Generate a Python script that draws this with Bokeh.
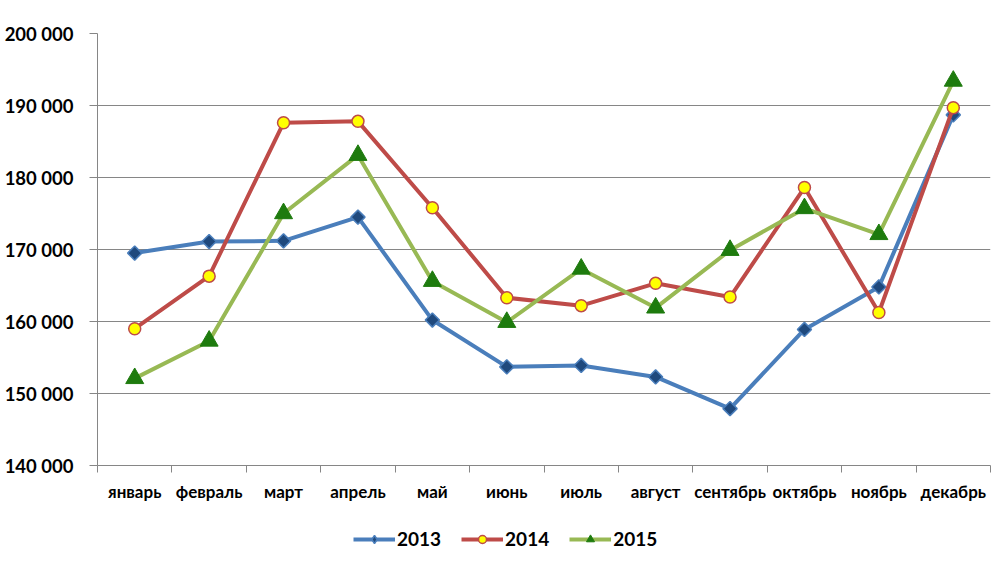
import math
from bokeh.plotting import figure
from bokeh.layouts import column
from bokeh.models import (Range1d, LinearAxis, FixedTicker, Legend, LegendItem, ColumnDataSource)
from bokeh.embed import file_html
from bokeh.resources import INLINE

months = ["январь", "февраль", "март", "апрель", "май", "июнь", "июль",
          "август", "сентябрь", "октябрь", "ноябрь", "декабрь"]
v2013 = [169500, 171100, 171200, 174500, 160200, 153700, 153900, 152300, 147900, 158900, 164800, 188700]
v2014 = [159000, 166300, 187600, 187800, 175800, 163300, 162200, 165300, 163400, 178600, 161250, 189700]
v2015 = [152100, 157300, 175000, 183100, 165600, 159900, 167300, 161900, 169900, 175700, 172100, 193400]
series_names = ["2013", "2014", "2015"]
y_ticks = [140000, 150000, 160000, 170000, 180000, 190000, 200000]

FONT = "Lato"
GRID = "#868686"
BLUE, RED, GREEN = "#4A7EBB", "#BE4B48", "#98B954"
DIAMOND_FILL, CIRCLE_FILL, TRI_FILL = "#1F497D", "#FFFF00", "#1E7B0E"

# category centres and boundaries on a numeric axis
centres = [i + 0.5 for i in range(len(months))]
bounds = list(range(len(months) + 1))

p = figure(width=1000, height=504, output_backend="svg", toolbar_location=None,
           x_range=Range1d(0, len(months)), y_range=Range1d(y_ticks[0], y_ticks[-1]),
           x_axis_location=None, y_axis_location=None,
           min_border_left=97, min_border_right=10, min_border_top=33, min_border_bottom=39)
p.outline_line_color = None
p.background_fill_color = "white"
p.border_fill_color = "white"

# y axis
yaxis = LinearAxis(ticker=FixedTicker(ticks=y_ticks, minor_ticks=[]))
yaxis.major_label_overrides = {v: f"{v:,}".replace(",", " ") for v in y_ticks}
yaxis.axis_line_color = GRID
yaxis.major_tick_line_color = GRID
yaxis.major_tick_in = 0
yaxis.major_tick_out = 8
yaxis.minor_tick_line_color = None
yaxis.major_label_standoff = 16
yaxis.major_label_text_font = FONT
yaxis.major_label_text_font_style = "bold"
yaxis.major_label_text_font_size = "18.5px"
yaxis.major_label_text_color = "black"
p.add_layout(yaxis, "left")

# x axis: labels at centres, tick marks at boundaries
xaxis = LinearAxis(ticker=FixedTicker(ticks=centres, minor_ticks=bounds))
xaxis.major_label_overrides = {c: m for c, m in zip(centres, months)}
xaxis.axis_line_color = GRID
xaxis.major_tick_line_color = None
xaxis.major_tick_out = 7
xaxis.major_tick_in = 0
xaxis.minor_tick_line_color = GRID
xaxis.minor_tick_out = 7
xaxis.minor_tick_in = 0
xaxis.major_label_standoff = 8
xaxis.major_label_text_font = FONT
xaxis.major_label_text_font_style = "bold"
xaxis.major_label_text_font_size = "17px"
xaxis.major_label_text_color = "black"
p.add_layout(xaxis, "below")

p.xgrid.visible = False
p.ygrid.ticker = FixedTicker(ticks=y_ticks)
p.ygrid.grid_line_color = GRID
p.ygrid.grid_line_width = 1

src = ColumnDataSource(dict(x=centres, a=v2013, b=v2014, c=v2015))

p.line("x", "a", source=src, line_color=BLUE, line_width=4)
p.scatter("x", "a", source=src, marker="square", angle=math.pi / 4, size=10,
          fill_color=DIAMOND_FILL, line_color=BLUE, line_width=1.5)
p.line("x", "b", source=src, line_color=RED, line_width=4)
p.scatter("x", "b", source=src, marker="circle", size=12,
          fill_color=CIRCLE_FILL, line_color=RED, line_width=1.5)
p.line("x", "c", source=src, line_color=GREEN, line_width=4)
p.scatter("x", "c", source=src, marker="triangle", size=18,
          fill_color=TRI_FILL, line_color=TRI_FILL, line_width=1)

# legend strip below the chart (same series, drawn outside its visible range)
lf = figure(width=1000, height=63, output_backend="svg", toolbar_location=None,
            x_range=Range1d(-100, -99), y_range=Range1d(-100, -99),
            x_axis_location=None, y_axis_location=None,
            min_border_left=0, min_border_right=0, min_border_top=0, min_border_bottom=0)
lf.outline_line_color = None
lf.grid.visible = False
lf.background_fill_color = "white"
lf.border_fill_color = "white"
r1 = [lf.line("x", "a", source=src, line_color=BLUE, line_width=4),
      lf.scatter("x", "a", source=src, marker="diamond", size=17,
                 fill_color=DIAMOND_FILL, line_color=BLUE, line_width=1.5)]
r2 = [lf.line("x", "b", source=src, line_color=RED, line_width=4),
      lf.scatter("x", "b", source=src, marker="circle", size=12,
                 fill_color=CIRCLE_FILL, line_color=RED, line_width=1.5)]
r3 = [lf.line("x", "c", source=src, line_color=GREEN, line_width=4),
      lf.scatter("x", "c", source=src, marker="triangle", size=16,
                 fill_color=TRI_FILL, line_color=TRI_FILL, line_width=1)]

legend = Legend(items=[LegendItem(label=series_names[0], renderers=r1),
                       LegendItem(label=series_names[1], renderers=r2),
                       LegendItem(label=series_names[2], renderers=r3)],
                orientation="horizontal", location=(256, 17))
legend.border_line_color = None
legend.background_fill_alpha = 0
legend.glyph_width = 42
legend.glyph_height = 20
legend.label_standoff = 2
legend.spacing = 20
legend.padding = 5
legend.margin = 0
legend.label_text_font = FONT
legend.label_text_font_style = "bold"
legend.label_text_font_size = "19px"
legend.label_text_color = "black"
lf.add_layout(legend, "center")

layout = column(p, lf, spacing=0)
open("out.html", "w").write(file_html(layout, INLINE))
